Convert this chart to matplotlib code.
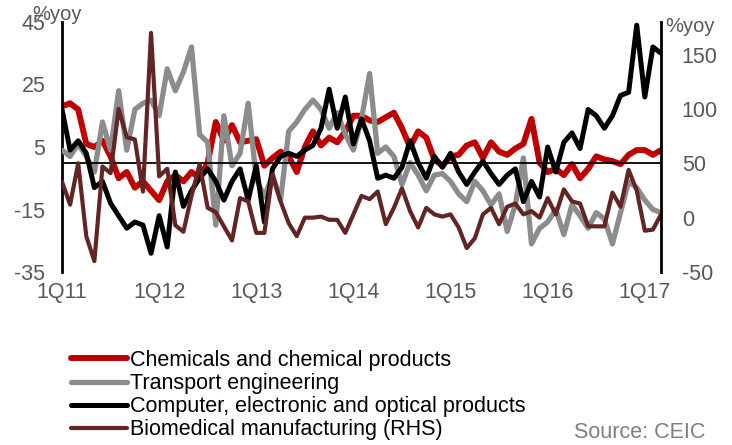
import matplotlib
matplotlib.use('Agg')
import matplotlib.pyplot as plt

plt.rcParams['font.family'] = ['Liberation Sans', 'DejaVu Sans']
plt.rcParams['axes.unicode_minus'] = False

# monthly yoy growth, Jan 2011 .. Mar 2017
chemicals = [18, 19, 17, 6, 5, 7, 2, -5, -3, -8, -6, -9, -12, -6, -4, -6, -3, -5, 0, 13,
             7, 12, 6.5, 7, 7.5, -1, 1.5, 3.5, 2, -3, 5, 10, 5.5, 8, 6.5, 10, 15, 15, 13.5, 13,
             14.5, 16, 11, 5, 10, 8, 1, -1, 2, 2.5, 5.5, 6.5, 1.5, 6.5, 3.5, 2.5, 4.5, 6, 14, 0,
             -3, -2, -4, -0.5, -5, -2, 2, 1, 0.5, -0.5, 2.5, 4, 4, 2.5, 4]
transport = [4, 2, 6, 2, -3, 13, 4, 23, 4, 17, 19, 20, 15, 30, 23, 29, 37, 9, 6.5, -20,
             15, -1, 3, 19, -5, -11, -4, -12, 10, 13, 17, 20, 17, 11, 16, 9, 4, 14, 28.5, 3,
             5, 2, -7, 0, -4, -9, -4, -3.5, -6, -10, -12.5, -6, -9, -13.5, -10, -22, -13.5, 1.5, -26, -21,
             -19, -15, -23, -13.5, -17, -21, -16, -18, -26, -16, -6, -8, -12, -15, -16]
computer = [17, 4, 7, 3, -8, -6, -13, -17, -21, -19, -20, -29, -17, -27, -3, -14, -9, -5, -2, -6,
            -12, -6, -2, -12, -1, -19, -2, 2, 3, 2, 4, 5.5, 11, 23.5, 11, 21, 6, 14, 7, -5,
            -4, -5, -1.5, 7, 0, -5, 2, -1.5, 3, -3, -7, -3, 0.5, -3.5, -7, -4, -2, -12.5, -6, -11,
            5, -3, 6.5, 9.5, 4.5, 17, 15, 11, 15, 21.5, 22.5, 44, 21, 37, 35]
biomedical = [33, 12, 50, -17, -40, 47, 41, 100, 74, 72, 24, 170, 38, 45, -7, -13, 20, 49, 9, 5,
              -8, -21, 18, 15, -14, -14, 40, 15, -5, -17, 0, 0, 1, -2, -2, -14, 3, 20, 17, 24,
              -6, 9, 27, 6, -9, 9, 3, 1, 3, -9, -28, -19, 3, 9, -6, 10, 13, 3, 6, 0,
              18, 3, 26, 15, 13, -8, -8, -8, 23, 10, 44, 25, -12, -11, 3]
months = list(range(len(chemicals)))
xticks = [0, 12, 24, 36, 48, 60, 72]
xlabels = ['1Q11', '1Q12', '1Q13', '1Q14', '1Q15', '1Q16', '1Q17']
left_ticks = [-35, -15, 5, 25, 45]
right_ticks = [-50, 0, 50, 100, 150]

TXT = '#595959'
FS = 15.5

fig = plt.figure(figsize=(7.32, 4.45), dpi=100)
ax = fig.add_axes([62 / 732, 1 - 272 / 445, 599 / 732, 250 / 445])
ax2 = ax.twinx()

l1, = ax.plot(months, chemicals, color='#C00000', lw=4.3, solid_capstyle='round', zorder=2)
l2, = ax.plot(months, transport, color='#8C8C8C', lw=3.8, solid_capstyle='round', zorder=3)
l3, = ax.plot(months, computer, color='black', lw=3.6, solid_capstyle='round', zorder=4)
ax.axhline(0, color='black', lw=1.3, zorder=5)
l4, = ax2.plot(months, biomedical, color='#632523', lw=3.0, solid_capstyle='round')

ax.set_xlim(0, len(months) - 1)
ax.set_ylim(-35, 45)
ax2.set_ylim(-50, 180)
ax.set_yticks(left_ticks)
ax2.set_yticks(right_ticks)
ax.set_xticks(xticks)
ax.set_xticklabels(xlabels)

for a in (ax, ax2):
    for s in ('top', 'bottom'):
        a.spines[s].set_visible(False)
ax.spines['right'].set_visible(False)
ax2.spines['left'].set_visible(False)
ax.spines['left'].set_linewidth(2)
ax2.spines['right'].set_linewidth(2)
ax.tick_params(axis='y', length=0, pad=12, labelsize=FS, labelcolor=TXT)
ax.tick_params(axis='x', length=0, pad=7, labelsize=FS, labelcolor=TXT)
ax2.tick_params(axis='y', which='major', length=0, pad=15, labelsize=FS, labelcolor=TXT)

# axis unit labels (the left one sits over the "45" like in the original)
fig.text(57 / 732, 1 - 14 / 445, '%yoy', ha='center', va='center', fontsize=FS - 1, color=TXT)
fig.text(690 / 732, 1 - 27 / 445, '%yoy', ha='center', va='center', fontsize=FS - 1, color=TXT)

fig.legend([l1, l2, l3, l4],
           ['Chemicals and chemical products', 'Transport engineering',
            'Computer, electronic and optical products', 'Biomedical manufacturing (RHS)'],
           loc='upper left', bbox_to_anchor=(71 / 732, 1 - 350 / 445), frameon=False,
           fontsize=FS, handlelength=2.6, handletextpad=0.15, labelspacing=0.1,
           borderpad=0, borderaxespad=0, labelcolor='black')
fig.text(705 / 732, 1 - 432 / 445, 'Source: CEIC', ha='right', va='center', fontsize=FS, color='#7F7F7F')

fig.savefig('out.png', dpi=100)
